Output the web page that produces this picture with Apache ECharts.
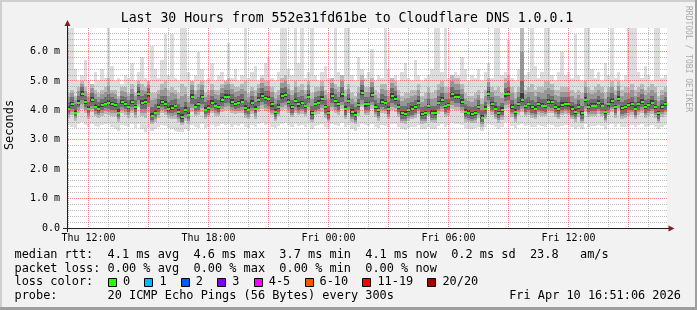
<!DOCTYPE html>
<html><head><meta charset="utf-8">
<script src="https://cdn.jsdelivr.net/npm/echarts@6/dist/echarts.min.js"></script>
<style>html,body{margin:0;padding:0;background:#f2f2f2;}#c{width:697px;height:310px;}</style>
</head><body><div id="c"></div>
<script>
// ---- time frame (minutes since Thu 00:00) ----
const startMin = 655.5;   // Thu 10:55:30
const endMin = 2455.5;    // Fri 16:55:30
const stepMin = 10;

// ---- median RTT (ms) ----
const median = [
4.05,4.20,3.90,4.25,4.57,4.28,4.05,4.36,4.12,4.04,4.18,4.22,4.25,4.20,4.18,3.92,4.27,4.20,4.10,4.27,4.10,4.57,4.25,4.30,4.54,3.80,3.92,4.12,4.27,4.20,
4.04,4.08,4.14,3.95,3.76,4.00,3.85,4.47,4.12,4.20,4.45,4.02,4.08,4.25,4.15,4.10,4.36,4.47,4.47,4.30,4.22,4.24,4.30,4.08,4.02,4.26,4.04,4.36,4.50,4.42,
4.40,4.20,3.95,4.12,4.48,4.52,4.30,4.10,4.32,4.20,4.24,4.14,4.47,3.90,4.22,4.25,4.40,4.10,3.90,4.48,4.32,4.22,4.55,4.04,4.33,3.95,3.85,4.18,4.60,4.20,
4.22,4.52,4.12,4.00,4.30,4.24,4.05,4.48,4.38,4.12,3.90,3.88,4.00,4.04,4.10,4.25,3.88,3.90,4.14,3.92,3.92,4.24,4.36,4.14,4.18,4.55,4.47,4.47,4.30,3.95,
3.92,3.88,3.90,4.10,3.75,4.04,4.57,4.20,4.04,3.90,4.02,4.55,4.56,4.12,3.95,4.20,4.35,4.14,4.20,4.10,4.04,4.20,4.16,4.14,4.30,4.27,4.12,4.04,4.19,4.22,
4.20,4.04,3.95,4.12,3.90,4.36,4.12,4.16,4.16,4.25,4.16,3.93,4.20,4.33,4.10,4.40,4.07,4.10,4.18,4.22,4.04,4.22,4.30,4.10,4.18,4.25,4.10,3.90,4.12,4.20
];
// ---- smoke: slowest ping (max) ----
const maxPing = [
7.0,7.0,5.4,5.0,5.2,5.7,5.0,4.9,5.3,5.0,5.4,5.1,6.9,5.5,5.0,5.1,4.9,5.2,5.1,5.6,5.0,5.3,5.8,5.1,5.0,6.2,5.4,5.1,5.7,6.6,
5.2,6.6,5.1,5.0,7.0,7.0,5.3,5.0,5.2,6.0,5.4,5.0,5.1,5.6,5.0,5.2,5.3,5.0,6.3,5.1,5.4,5.0,5.2,7.0,5.1,5.3,5.5,5.0,5.2,5.6,
5.8,5.1,5.0,5.3,7.0,7.0,5.4,5.2,7.0,5.6,7.0,5.1,5.3,7.0,5.2,5.0,5.3,5.5,5.1,5.0,7.0,5.3,5.1,7.0,7.0,5.2,5.0,5.8,5.4,5.1,
5.3,6.1,5.0,5.2,5.1,7.0,5.4,5.0,5.2,5.0,5.3,5.6,5.1,5.0,5.7,5.2,5.0,5.1,5.2,5.4,7.0,7.0,5.3,7.0,5.1,5.0,5.3,5.2,5.8,5.4,
5.0,5.2,5.1,5.4,5.0,5.3,5.6,5.1,7.0,7.0,5.2,5.3,6.4,5.1,5.0,5.4,7.0,5.2,5.3,7.0,5.5,5.1,5.3,7.0,7.0,5.2,5.0,5.3,6.0,5.2,
5.3,5.1,6.6,5.2,5.0,7.0,7.0,5.4,5.1,5.3,5.0,5.6,5.2,7.0,5.1,5.3,5.0,5.2,7.0,7.0,7.0,5.3,5.1,5.5,5.2,5.0,7.0,7.0,5.1,5.2
];
// ---- smoke: fastest ping (min) ----
const minPing = [
3.50,3.45,3.40,3.55,3.60,3.50,3.45,3.55,3.48,3.42,3.50,3.55,3.52,3.45,3.38,3.30,3.50,3.48,3.45,3.52,3.40,3.55,3.35,3.25,3.40,3.30,3.35,3.45,3.50,3.48,
3.40,3.35,3.30,3.28,3.25,3.35,3.30,3.50,3.45,3.40,3.55,3.40,3.45,3.50,3.42,3.48,3.55,3.50,3.52,3.45,3.50,3.48,3.52,3.45,3.40,3.50,3.42,3.55,3.58,3.50,
3.52,3.45,3.40,3.48,3.55,3.58,3.50,3.45,3.52,3.48,3.50,3.45,3.55,3.35,3.48,3.50,3.55,3.45,3.38,3.55,3.50,3.48,3.58,3.42,3.50,3.35,3.30,3.45,3.55,3.50,
3.48,3.55,3.45,3.40,3.50,3.48,3.42,3.55,3.52,3.45,3.35,3.32,3.40,3.42,3.45,3.50,3.35,3.38,3.45,3.35,3.38,3.48,3.52,3.45,3.50,3.58,3.55,3.55,3.50,3.40,
3.38,3.35,3.40,3.45,3.30,3.42,3.55,3.50,3.42,3.38,3.45,3.60,3.62,3.48,3.40,3.50,3.55,3.48,3.50,3.45,3.42,3.50,3.48,3.45,3.52,3.50,3.45,3.42,3.48,3.50,
3.50,3.42,3.38,3.45,3.35,3.52,3.45,3.48,3.47,3.50,3.46,3.36,3.50,3.52,3.45,3.55,3.44,3.45,3.48,3.50,3.42,3.50,3.52,3.45,3.48,3.50,3.44,3.35,3.45,3.50
];
// ---- smoke: outer-middle quantiles ----
const upperMid = [
4.6,4.7,4.5,4.8,5.0,4.8,4.6,4.9,4.7,4.6,4.7,4.8,5.1,4.7,4.7,4.5,4.8,4.8,4.6,4.9,4.6,5.0,4.9,4.8,5.0,4.6,4.6,4.7,4.9,5.0,
4.7,4.8,4.7,4.6,4.9,4.8,4.5,5.0,4.7,4.9,5.0,4.6,4.7,4.9,4.7,4.7,4.9,5.0,5.1,4.9,4.8,4.8,4.9,5.0,4.6,4.8,4.7,4.9,5.1,5.0,
5.0,4.8,4.6,4.7,5.1,5.2,4.9,4.7,5.0,4.8,4.9,4.7,5.0,4.6,4.8,4.8,5.0,4.7,4.6,5.1,4.9,4.8,5.2,4.7,4.9,4.6,4.5,4.8,5.2,4.8,
4.8,5.1,4.7,4.6,4.9,4.9,4.7,5.1,5.0,4.7,4.5,4.6,4.6,4.7,4.7,4.9,4.5,4.6,4.8,4.6,4.7,4.9,5.0,4.8,4.8,5.2,5.1,5.1,4.9,4.6,
4.5,4.5,4.6,4.7,4.4,4.7,5.1,4.8,4.7,4.8,4.6,5.1,5.2,4.8,4.6,4.8,7.0,4.7,4.8,4.9,4.7,4.8,4.8,5.0,5.0,4.9,4.7,4.7,4.8,4.8,
4.8,4.7,4.6,4.7,4.6,5.0,4.8,4.7,4.8,4.9,4.8,4.6,4.8,5.0,4.7,5.0,4.7,4.8,4.8,4.9,4.7,4.8,4.9,4.7,4.8,4.9,4.8,4.5,4.7,4.8
];
const lowerMid = [
3.75,3.85,3.65,3.90,4.05,3.90,3.70,3.95,3.80,3.75,3.82,3.88,3.85,3.80,3.80,3.60,3.90,3.85,3.75,3.90,3.75,4.10,3.80,3.75,3.95,3.55,3.60,3.75,3.90,3.85,
3.75,3.72,3.70,3.60,3.50,3.65,3.55,3.95,3.80,3.85,3.95,3.70,3.78,3.90,3.82,3.80,3.95,4.00,4.02,3.90,3.88,3.90,3.92,3.75,3.70,3.88,3.72,3.95,4.05,3.98,
3.95,3.85,3.65,3.80,4.00,4.05,3.90,3.78,3.92,3.85,3.88,3.80,4.00,3.60,3.85,3.88,3.95,3.75,3.60,4.00,3.92,3.85,4.05,3.70,3.92,3.62,3.55,3.82,4.10,3.85,
3.85,4.05,3.78,3.65,3.92,3.88,3.70,4.00,3.95,3.78,3.58,3.55,3.65,3.70,3.75,3.88,3.55,3.58,3.80,3.60,3.58,3.88,3.95,3.78,3.82,4.05,4.00,4.00,3.90,3.62,
3.60,3.58,3.58,3.75,3.45,3.70,4.10,3.85,3.70,3.58,3.68,4.05,4.08,3.78,3.62,3.85,3.95,3.80,3.85,3.75,3.70,3.85,3.82,3.80,3.92,3.90,3.78,3.70,3.85,3.88,
3.85,3.70,3.62,3.78,3.58,3.95,3.78,3.80,3.80,3.88,3.80,3.60,3.85,3.95,3.75,4.00,3.72,3.75,3.82,3.85,3.70,3.85,3.92,3.75,3.82,3.88,3.75,3.58,3.78,3.85
];
// ---- smoke: inner quantiles ----
const upperInner = [
4.30,4.45,4.20,4.50,4.80,4.50,4.30,4.60,4.40,4.30,4.40,4.45,4.55,4.45,4.40,4.25,4.50,4.45,4.35,4.55,4.35,4.80,4.50,4.55,4.75,4.10,4.20,4.40,4.50,4.50,
4.30,4.35,4.40,4.20,4.10,4.30,4.10,4.70,4.40,4.45,4.70,4.30,4.35,4.50,4.40,4.35,4.60,4.70,4.70,4.55,4.45,4.50,4.55,4.35,4.30,4.50,4.30,4.60,4.75,4.65,
4.65,4.45,4.20,4.35,4.75,4.80,4.55,4.35,4.60,4.45,4.50,4.40,4.70,4.15,4.45,4.50,4.65,4.35,4.15,4.75,4.55,4.45,4.80,4.30,4.55,4.20,4.10,4.40,4.85,4.45,
4.45,4.80,4.35,4.25,4.55,4.50,4.30,4.75,4.65,4.35,4.15,4.15,4.25,4.30,4.35,4.50,4.10,4.15,4.40,4.15,4.15,4.50,4.60,4.40,4.40,4.80,4.70,4.70,4.55,4.20,
4.15,4.10,4.15,4.35,4.00,4.30,4.80,4.45,4.30,4.15,4.25,4.75,4.80,4.35,4.20,4.45,5.00,4.40,4.45,4.35,4.30,4.45,4.40,4.40,4.55,4.50,4.35,4.30,4.45,4.45,
4.45,4.30,4.20,4.35,4.15,4.60,4.35,4.40,4.40,4.50,4.40,4.20,4.45,4.60,4.35,4.65,4.30,4.35,4.40,4.45,4.30,4.45,4.55,4.35,4.40,4.50,4.35,4.15,4.35,4.45
];
const lowerInner = [
3.92,4.05,3.80,4.10,4.35,4.12,3.90,4.15,3.98,3.90,4.02,4.08,4.05,4.02,4.00,3.78,4.10,4.05,3.95,4.10,3.95,4.35,4.05,4.05,4.25,3.68,3.78,3.95,4.10,4.05,
3.90,3.92,3.95,3.78,3.62,3.85,3.70,4.20,3.98,4.02,4.22,3.88,3.92,4.08,4.00,3.95,4.15,4.25,4.25,4.10,4.05,4.08,4.12,3.92,3.88,4.08,3.90,4.15,4.30,4.20,
4.15,4.00,3.78,3.95,4.25,4.30,4.10,3.92,4.12,4.00,4.05,3.95,4.25,3.72,4.02,4.05,4.18,3.92,3.72,4.25,4.12,4.02,4.30,3.85,4.12,3.78,3.68,4.00,4.35,4.00,
4.02,4.30,3.95,3.82,4.10,4.05,3.88,4.25,4.18,3.95,3.72,3.70,3.82,3.85,3.92,4.05,3.70,3.72,3.95,3.75,3.74,4.05,4.15,3.95,4.00,4.32,4.25,4.25,4.10,3.78,
3.75,3.72,3.74,3.92,3.60,3.88,4.35,4.02,3.88,3.74,3.85,4.32,4.35,3.95,3.78,4.02,4.15,3.95,4.02,3.92,3.88,4.02,3.98,3.95,4.10,4.08,3.95,3.88,4.00,4.05,
4.00,3.85,3.78,3.95,3.72,4.15,3.95,3.98,3.98,4.05,3.98,3.75,4.00,4.12,3.92,4.18,3.88,3.92,4.00,4.02,3.85,4.02,4.10,3.92,3.98,4.05,3.92,3.72,3.95,4.02
];

// ---- axis ticks / labels ----
const xTickMinutes = [720, 1080, 1440, 1800, 2160];
const xTickLabels = ['Thu 12:00', 'Thu 18:00', 'Fri 00:00', 'Fri 06:00', 'Fri 12:00'];
const yTicks = [0, 1, 2, 3, 4, 5, 6];
const yTickLabels = ['0.0', '1.0 m', '2.0 m', '3.0 m', '4.0 m', '5.0 m', '6.0 m'];
const yMax = 6.8;

// ---- texts ----
const titleText = 'Last 30 Hours from 552e31fd61be to Cloudflare DNS 1.0.0.1';
const legendRtt = 'median rtt:  4.1 ms avg  4.6 ms max  3.7 ms min  4.1 ms now  0.2 ms sd  23.8   am/s';
const legendLoss = 'packet loss: 0.00 % avg  0.00 % max  0.00 % min  0.00 % now';
const lossLabels = ['0', '1', '2', '3', '4-5', '6-10', '11-19', '20/20'];
const lossColors = ['#26ff00', '#00b8ff', '#0059ff', '#7e00ff', '#ff00ff', '#ff5500', '#ff0000', '#a10000'];
const probeText = 'probe:       20 ICMP Echo Pings (56 Bytes) every 300s';
const dateText = 'Fri Apr 10 16:51:06 2026';

// ---------------------------------------------------------------
const MONO = '"DejaVu Sans Mono", monospace';
const times = median.map((_, i) => startMin + stepMin * (i + 0.5));

function band(lo, hi, color, z) {
  return {
    type: 'custom', coordinateSystem: 'cartesian2d', z: z, silent: true, clip: true,
    animation: false,
    data: lo.map((l, i) => [times[i], l, hi[i]]),
    encode: { x: 0, y: [1, 2] },
    renderItem: function (params, api) {
      const x = api.value(0), l = api.value(1), h = api.value(2);
      const a = api.coord([x - stepMin / 2, h]);
      const b = api.coord([x + stepMin / 2, l]);
      const x0 = Math.round(a[0]), x1 = Math.round(b[0]);
      const y0 = Math.round(a[1]), y1 = Math.round(b[1]);
      return { type: 'rect', shape: { x: x0, y: y0, width: x1 - x0, height: Math.max(1, y1 - y0) },
               style: { fill: color } };
    }
  };
}
const mix = (a, b, w) => a.map((v, i) => v * w + b[i] * (1 - w));

// grid line positions (dotted lines drawn as rows of 1px dots)
const majorX = [], minorX = [];
for (let t = 660; t < endMin; t += 60) { ((t - 720) % 180 === 0 ? majorX : minorX).push(t); }
const majorY = [], minorY = [];
for (let k = 1; k * 0.2 < yMax; k++) { const v = +(k * 0.2).toFixed(1); (k % 5 === 0 ? majorY : minorY).push(v); }

function gridSeries(vals, dim, color, z) {
  return {
    type: 'custom', coordinateSystem: 'cartesian2d', z: z, silent: true, clip: true, animation: false,
    data: vals.map(v => dim === 'x' ? [v, 0] : [startMin, v]),
    encode: { x: 0, y: 1 },
    renderItem: function (params, api) {
      const cs = params.coordSys;
      const c = api.coord([api.value(0), api.value(1)]);
      const children = [];
      if (dim === 'x') {
        const x = Math.floor(c[0]);
        for (let y = cs.y + cs.height - 2; y >= cs.y; y -= 2) {
          children.push({ type: 'rect', shape: { x: x, y: y, width: 1, height: 1 }, style: { fill: color } });
        }
      } else {
        const y = Math.floor(c[1]);
        for (let x = cs.x + 1; x < cs.x + cs.width; x += 2) {
          children.push({ type: 'rect', shape: { x: x, y: y, width: 1, height: 1 }, style: { fill: color } });
        }
      }
      return { type: 'group', children: children };
    }
  };
}

const chart = echarts.init(document.getElementById('c'), null, { renderer: 'canvas' });

const graphics = [];
graphics.push({ type: 'rect', shape: { x: 0, y: 0, width: 697, height: 2 }, style: { fill: '#cfcfcf' }, silent: true });
graphics.push({ type: 'rect', shape: { x: 0, y: 0, width: 2, height: 310 }, style: { fill: '#cfcfcf' }, silent: true });
graphics.push({ type: 'rect', shape: { x: 0, y: 307, width: 697, height: 3 }, style: { fill: '#9e9e9e' }, silent: true });
graphics.push({ type: 'rect', shape: { x: 695, y: 0, width: 2, height: 310 }, style: { fill: '#9e9e9e' }, silent: true });
graphics.push({ type: 'text', x: 347, y: 19, style: { text: titleText, font: '13.2px ' + MONO, fill: '#000', align: 'center', verticalAlign: 'middle' }, silent: true });
graphics.push({ type: 'text', x: 688, y: 59, rotation: -Math.PI / 2, style: { text: 'RRDTOOL / TOBI OETIKER', font: '8px ' + MONO, fill: '#a9a9a9', align: 'center', verticalAlign: 'middle' }, silent: true });
graphics.push({ type: 'text', x: 10, y: 125, rotation: Math.PI / 2, style: { text: 'Seconds', font: '11.9px ' + MONO, fill: '#000', align: 'center', verticalAlign: 'middle' }, silent: true });
graphics.push({ type: 'line', shape: { x1: 63, y1: 228.5, x2: 670, y2: 228.5 }, style: { stroke: '#1f1f1f', lineWidth: 1 }, z: 50, silent: true });
graphics.push({ type: 'line', shape: { x1: 67.5, y1: 232, x2: 67.5, y2: 24 }, style: { stroke: '#1f1f1f', lineWidth: 1 }, z: 50, silent: true });
graphics.push({ type: 'polygon', shape: { points: [[64.5, 26], [70.5, 26], [67.5, 20]] }, style: { fill: '#801f1f' }, z: 51, silent: true });
graphics.push({ type: 'polygon', shape: { points: [[668.5, 225.5], [668.5, 231.5], [674.5, 228.5]] }, style: { fill: '#801f1f' }, z: 51, silent: true });
const lx = 14.5, charW = 7.15;
graphics.push({ type: 'text', x: lx, y: 255, style: { text: legendRtt, font: '11.9px ' + MONO, fill: '#000', verticalAlign: 'middle' }, silent: true });
graphics.push({ type: 'text', x: lx, y: 268.5, style: { text: legendLoss, font: '11.9px ' + MONO, fill: '#000', verticalAlign: 'middle' }, silent: true });
graphics.push({ type: 'text', x: lx, y: 282, style: { text: 'loss color:', font: '11.9px ' + MONO, fill: '#000', verticalAlign: 'middle' }, silent: true });
let bx = lx + 13 * charW + 0.5;
lossLabels.forEach((lab, k) => {
  graphics.push({ type: 'rect', shape: { x: Math.round(bx) + 0.5, y: 278.5, width: 8, height: 8 }, style: { fill: lossColors[k], stroke: '#000', lineWidth: 1 }, silent: true });
  graphics.push({ type: 'text', x: bx + 15, y: 282, style: { text: lab, font: '11.9px ' + MONO, fill: '#000', verticalAlign: 'middle' }, silent: true });
  bx += 15 + (lab.length + 2) * charW;
});
graphics.push({ type: 'text', x: lx, y: 295.5, style: { text: probeText, font: '11.9px ' + MONO, fill: '#000', verticalAlign: 'middle' }, silent: true });
graphics.push({ type: 'text', x: 681, y: 295.5, style: { text: dateText, font: '11.9px ' + MONO, fill: '#000', align: 'right', verticalAlign: 'middle' }, silent: true });

chart.setOption({
  animation: false,
  backgroundColor: '#f2f2f2',
  grid: { left: 67, top: 28, width: 600, height: 200, show: true, backgroundColor: '#ffffff', borderWidth: 0 },
  xAxis: {
    type: 'value', min: startMin, max: endMin,
    axisLine: { show: false }, axisTick: { show: false }, splitLine: { show: false },
    axisLabel: {
      customValues: xTickMinutes,
      formatter: v => { const k = xTickMinutes.indexOf(v); return k >= 0 ? xTickLabels[k] : ''; },
      fontFamily: MONO, fontSize: 10, color: '#000', margin: 5, hideOverlap: false
    }
  },
  yAxis: {
    type: 'value', min: 0, max: yMax, interval: 1,
    axisLine: { show: false }, axisTick: { show: false }, splitLine: { show: false },
    axisLabel: {
      formatter: v => { const k = yTicks.indexOf(v); return k >= 0 ? yTickLabels[k] : ''; },
      fontFamily: MONO, fontSize: 10, color: '#000', margin: 7
    }
  },
  graphic: graphics,
  series: [
    band(minPing, maxPing, '#dddddd', 2),
    band(lowerMid, upperMid, '#bababa', 3),
    band(mix(lowerMid, lowerInner, 0.5), mix(upperMid, upperInner, 0.5), '#979797', 4),
    band(lowerInner, upperInner, '#6e6e6e', 5),
    band(mix(lowerInner, median, 0.35), mix(upperInner, median, 0.35), '#3c3c3c', 6),
    gridSeries(minorX, 'x', 'rgba(143,143,143,0.6)', 7),
    gridSeries(minorY, 'y', 'rgba(143,143,143,0.6)', 7),
    gridSeries(majorX, 'x', 'rgba(232,70,70,0.65)', 8),
    gridSeries(majorY, 'y', 'rgba(232,70,70,0.65)', 8),
    {
      type: 'custom', coordinateSystem: 'cartesian2d', z: 10, silent: true, clip: true, animation: false,
      data: median.map((m, i) => [times[i], m]),
      encode: { x: 0, y: 1 },
      renderItem: function (params, api) {
        const c = api.coord([api.value(0), api.value(1)]);
        return { type: 'rect', shape: { x: Math.round(c[0] - 1.5), y: Math.round(c[1] - 1), width: 3, height: 2 }, style: { fill: '#26ff00' } };
      }
    }
  ]
});
</script></body></html>
